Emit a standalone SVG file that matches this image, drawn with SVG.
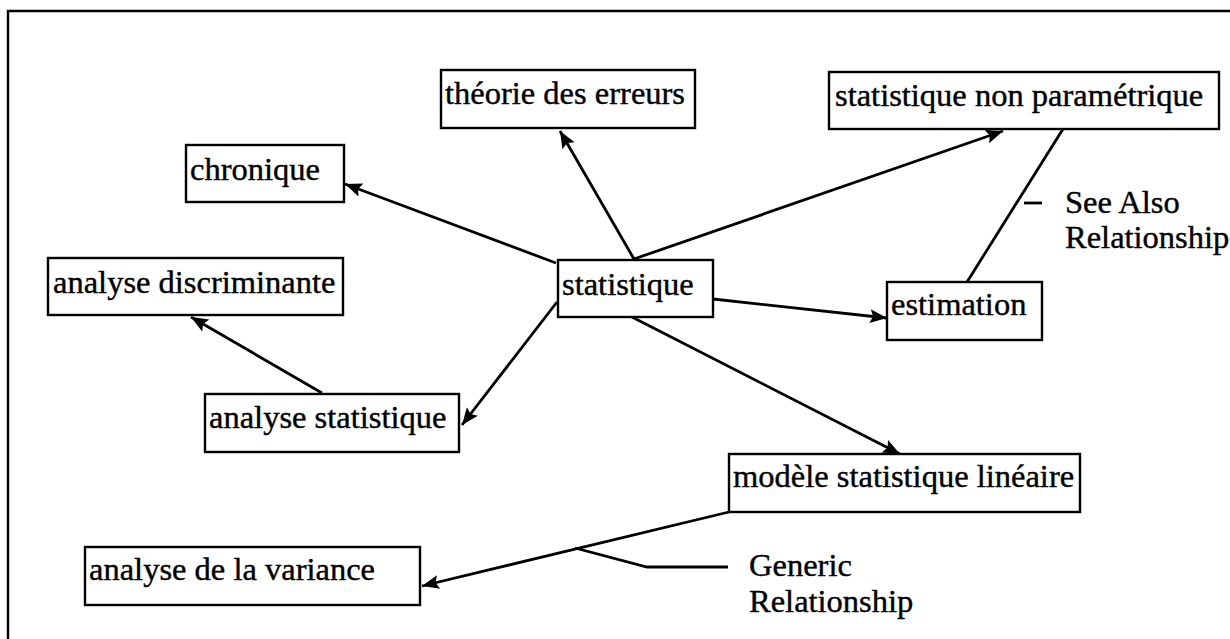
<svg xmlns="http://www.w3.org/2000/svg" width="1230" height="639" viewBox="0 0 1230 639">
<style>
.box{fill:#fff;stroke:#000;stroke-width:2.4}
.t{font-family:"Liberation Serif","Times New Roman",serif;font-size:32.5px;fill:#000;stroke:#000;stroke-width:0.4}
.c{fill:none;stroke:#000;stroke-width:2.8}
.a{marker-end:url(#arr)}
</style>
<defs>
<marker id="arr" markerUnits="userSpaceOnUse" markerWidth="20" markerHeight="16" refX="17" refY="7" orient="auto">
<path d="M0,0 L17,7 L0,14 L3,7 z" fill="#000"/>
</marker>
</defs>
<rect width="1230" height="639" fill="#fff"/>
<path d="M8,639 V11 H1230" fill="none" stroke="#000" stroke-width="2.4"/>
<g id="connectors">
<line class="c a" x1="556" y1="263" x2="345" y2="184"/>
<line class="c a" x1="634" y1="259" x2="560" y2="131"/>
<line class="c a" x1="634" y1="259" x2="1003" y2="131"/>
<line class="c a" x1="713" y1="299" x2="887" y2="318"/>
<line class="c a" x1="557" y1="302" x2="462" y2="425"/>
<line class="c a" x1="322" y1="393" x2="191" y2="317"/>
<line class="c a" x1="632" y1="317" x2="900" y2="454"/>
<line class="c a" x1="729" y1="512" x2="422" y2="586"/>
<line class="c" x1="1063" y1="129" x2="967" y2="282"/>
<line class="c" x1="1024" y1="203" x2="1042" y2="203"/>
<polyline class="c" points="575,548 647,567 728,567"/>
</g>
<g id="n-chronique"><rect class="box" x="186" y="145" width="158" height="57"/><text class="t" x="190" y="180">chronique</text></g>
<g id="n-theorie"><rect class="box" x="441" y="70" width="254" height="58"/><text class="t" x="445" y="104">théorie des erreurs</text></g>
<g id="n-snp"><rect class="box" x="829" y="72" width="390" height="57"/><text class="t" x="835" y="106">statistique non paramétrique</text></g>
<g id="n-discrim"><rect class="box" x="48" y="258" width="295" height="57"/><text class="t" x="53" y="293">analyse discriminante</text></g>
<g id="n-statistique"><rect class="box" x="558" y="260" width="155" height="57"/><text class="t" x="562" y="295">statistique</text></g>
<g id="n-estimation"><rect class="box" x="887" y="282" width="155" height="58"/><text class="t" x="891" y="315">estimation</text></g>
<g id="n-analyse-stat"><rect class="box" x="205" y="394" width="254" height="58"/><text class="t" x="209" y="428">analyse statistique</text></g>
<g id="n-modele"><rect class="box" x="729" y="454" width="351" height="58"/><text class="t" x="733" y="487">modèle statistique linéaire</text></g>
<g id="n-variance"><rect class="box" x="85" y="547" width="335" height="58"/><text class="t" x="89" y="580">analyse de la variance</text></g>
<g id="labels">
<text class="t" x="1065" y="213">See Also</text>
<text class="t" x="1065" y="248">Relationship</text>
<text class="t" x="749" y="576">Generic</text>
<text class="t" x="749" y="612">Relationship</text>
</g>
</svg>
